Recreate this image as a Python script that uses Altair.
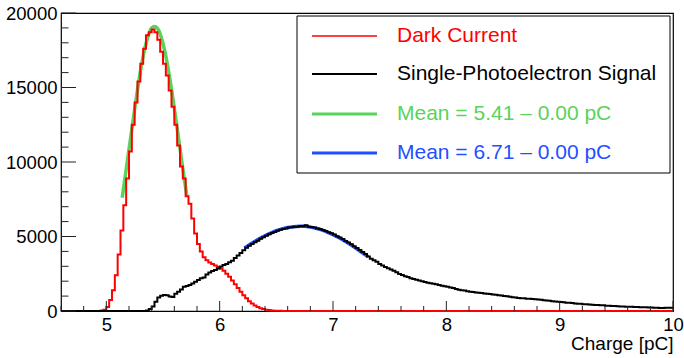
import altair as alt
import pandas as pd

# ---------------- data ----------------
BIN_W = 0.025
X_MIN, X_MAX = 4.6, 10.0
N_BINS = 216

# Dark current histogram: zeros, then non-zero bins from 4.950 to 6.550, then zeros
red_lead = 14
red_nonzero = [
    30, 90, 270, 740, 1400, 2400, 3800, 5400,
    7100, 8900, 10700, 12500, 14000, 15400, 16600, 17600,
    18500, 18700, 18900, 18700, 18200, 17400, 16600, 15800,
    14800, 13700, 12500, 11100, 9700, 8900, 7700, 7200,
    6200, 5200, 4500, 4000, 3600, 3400, 3250, 3150,
    3050, 2950, 2850, 2700, 2500, 2300, 2050, 1800,
    1550, 1300, 1050, 850, 650, 500, 370, 270,
    190, 130, 90, 60, 40, 25, 15, 10,
    5,
]

# Single-photoelectron histogram: zeros, then bins from 5.350 to 9.975
black_lead = 30
black_nonzero = [
    30, 130, 300, 620, 900, 1030, 1080, 1050,
    980, 940, 1150, 1300, 1450, 1630, 1680, 1750,
    1850, 1970, 2080, 2200, 2250, 2450, 2580, 2680,
    2750, 2850, 2980, 3080, 3150, 3280, 3380, 3550,
    3720, 3900, 4080, 4250, 4380, 4500, 4620, 4720,
    4850, 4950, 5050, 5150, 5230, 5300, 5390, 5450,
    5500, 5540, 5600, 5620, 5660, 5650, 5700, 5690,
    5760, 5660, 5630, 5600, 5540, 5500, 5440, 5370,
    5290, 5210, 5130, 5020, 4930, 4830, 4700, 4600,
    4480, 4350, 4220, 4100, 3960, 3820, 3650, 3500,
    3400, 3300, 3150, 3050, 2960, 2870, 2790, 2700,
    2600, 2480, 2420, 2330, 2280, 2200, 2150, 2100,
    2050, 2000, 1950, 1900, 1870, 1830, 1790, 1740,
    1700, 1660, 1620, 1580, 1540, 1480, 1430, 1400,
    1370, 1330, 1300, 1280, 1250, 1230, 1210, 1180,
    1160, 1140, 1110, 1090, 1060, 1040, 1010, 990,
    960, 930, 900, 880, 860, 850, 830, 820,
    800, 790, 770, 750, 720, 700, 690, 660,
    640, 620, 600, 580, 560, 550, 530, 510,
    490, 480, 460, 450, 440, 420, 410, 400,
    390, 380, 360, 350, 340, 330, 320, 310,
    300, 290, 285, 280, 270, 265, 260, 250,
    245, 240, 230, 220, 210, 200, 205, 210,
    215, 220,
]

# Fit curves
green_x = [5.14, 5.175, 5.2, 5.225, 5.25, 5.275, 5.3, 5.325, 5.35, 5.375, 5.4, 5.425,
           5.45, 5.475, 5.5, 5.525, 5.55, 5.575, 5.6, 5.625, 5.65, 5.675, 5.71]
green_y = [7600, 9500, 10850, 12200, 13550, 14850, 16050, 17100, 17950, 18600, 19000, 19100,
           18980, 18600, 17950, 17100, 16050, 14900, 13600, 12250, 10900, 9550, 7750]
blue_x = [6.22, 6.25, 6.3, 6.35, 6.4, 6.45, 6.5, 6.55, 6.6, 6.65, 6.71, 6.75,
          6.8, 6.85, 6.9, 6.95, 7.0, 7.05, 7.1, 7.15, 7.2, 7.25, 7.31]
blue_y = [4230, 4380, 4620, 4850, 5050, 5230, 5390, 5510, 5600, 5660, 5690, 5680,
          5630, 5550, 5440, 5300, 5130, 4930, 4710, 4480, 4230, 3960, 3640]

x_major = [5, 6, 7, 8, 9, 10]
x_minor = [4.6, 4.8, 5.2, 5.4, 5.6, 5.8, 6.2, 6.4, 6.6, 6.8, 7.2, 7.4, 7.6, 7.8,
           8.2, 8.4, 8.6, 8.8, 9.2, 9.4, 9.6, 9.8]
y_major = [0, 5000, 10000, 15000, 20000]
y_minor = [1000, 2000, 3000, 4000, 6000, 7000, 8000, 9000, 11000, 12000, 13000, 14000,
           16000, 17000, 18000, 19000]

legend_labels = ["Dark Current", "Single-Photoelectron Signal",
                 "Mean = 5.41 \u2013 0.00 pC", "Mean = 6.71 \u2013 0.00 pC"]
legend_colors = ["#ff0000", "#000000", "#5ad35a", "#1f4fff"]
legend_widths = [1.5, 2, 3, 3]

# ---------------- build tables ----------------
def hist_df(lead, nonzero):
    vals = [0] * lead + nonzero
    vals = vals + [0] * (N_BINS - len(vals))
    xs = [round(X_MIN + i * BIN_W, 4) for i in range(N_BINS)] + [X_MAX]
    vals = vals + [vals[-1]]
    return pd.DataFrame({"x": xs, "count": vals})

red_df = hist_df(red_lead, red_nonzero)
black_df = hist_df(black_lead, black_nonzero)
green_df = pd.DataFrame({"x": green_x, "count": green_y})
blue_df = pd.DataFrame({"x": blue_x, "count": blue_y})

W, H = 612, 298
FONT = "Liberation Sans"

xs = alt.Scale(domain=[X_MIN, X_MAX], nice=False, zero=False)
ys = alt.Scale(domain=[0, 20000], nice=False)

x_axis = alt.Axis(values=x_major, ticks=False, tickSize=0, domain=False, grid=False, format="d",
                  labelFont=FONT, labelFontSize=18.5, labelColor="black", labelPadding=4,
                  labelFlush=False,
                  title="Charge [pC]", titleFont=FONT, titleFontSize=19, titleFontWeight="normal",
                  titleColor="black", titleAnchor="end", titleAlign="right",
                  titleX=W, titleY=38, titleBaseline="alphabetic")
y_axis = alt.Axis(values=y_major, ticks=False, tickSize=0, domain=False, grid=False,
                  labelFont=FONT, labelFontSize=18.5, labelColor="black", labelPadding=4,
                  labelFlush=False, format="d", title=None)

dummy = pd.DataFrame({"k": [0]})

green_line = alt.Chart(green_df).mark_line(interpolate="monotone", color="#5ad35a", strokeWidth=3.5).encode(
    x=alt.X("x:Q", scale=xs, axis=x_axis),
    y=alt.Y("count:Q", scale=ys, axis=y_axis),
)
red_line = alt.Chart(red_df).mark_line(interpolate="step-after", color="#ff0000", strokeWidth=2).encode(
    x=alt.X("x:Q", scale=xs), y=alt.Y("count:Q", scale=ys))
blue_line = alt.Chart(blue_df).mark_line(interpolate="monotone", color="#1f4fff", strokeWidth=3.5).encode(
    x=alt.X("x:Q", scale=xs), y=alt.Y("count:Q", scale=ys))
black_line = alt.Chart(black_df).mark_line(interpolate="step-after", color="black", strokeWidth=2).encode(
    x=alt.X("x:Q", scale=xs), y=alt.Y("count:Q", scale=ys))

tick_col = "#222222"
xmaj = alt.Chart(pd.DataFrame({"t": x_major})).mark_rule(color=tick_col, strokeWidth=1).encode(
    x=alt.X("t:Q", scale=xs), y=alt.value(H), y2=alt.value(H - 10))
xmin_ = alt.Chart(pd.DataFrame({"t": x_minor})).mark_rule(color=tick_col, strokeWidth=1).encode(
    x=alt.X("t:Q", scale=xs), y=alt.value(H), y2=alt.value(H - 5))
ymaj = alt.Chart(pd.DataFrame({"t": y_major})).mark_rule(color=tick_col, strokeWidth=1).encode(
    y=alt.Y("t:Q", scale=ys), x=alt.value(0), x2=alt.value(15))
ymin_ = alt.Chart(pd.DataFrame({"t": y_minor})).mark_rule(color=tick_col, strokeWidth=1).encode(
    y=alt.Y("t:Q", scale=ys), x=alt.value(0), x2=alt.value(7.5))

# legend
LX0, LX1, LY0, LY1 = 236, 609, 3, 160
row_y = [23, 61, 101, 140]
legend_box = alt.Chart(dummy).mark_rect(fill="white", stroke="black", strokeWidth=1).encode(
    x=alt.value(LX0), x2=alt.value(LX1), y=alt.value(LY0), y2=alt.value(LY1))
legend_layers = [legend_box]
for i, lab in enumerate(legend_labels):
    legend_layers.append(
        alt.Chart(dummy).mark_rule(color=legend_colors[i], strokeWidth=legend_widths[i]).encode(
            x=alt.value(251), x2=alt.value(316), y=alt.value(row_y[i])))
    legend_layers.append(
        alt.Chart(dummy).mark_text(align="left", baseline="middle", font=FONT, fontSize=21,
                                   color=legend_colors[i]).encode(
            x=alt.value(336), y=alt.value(row_y[i]), text=alt.value(lab)))

chart = alt.layer(
    green_line, red_line, blue_line, black_line,
    xmaj, xmin_, ymaj, ymin_, *legend_layers
).properties(
    width=W, height=H,
    autosize=alt.AutoSizeParams(type="none"),
    padding={"left": 61, "top": 13, "right": 11, "bottom": 47},
    background="white",
).configure_view(stroke="black", strokeWidth=1.2)

chart.save("out.html", embed_options={"renderer": "svg", "actions": False})
